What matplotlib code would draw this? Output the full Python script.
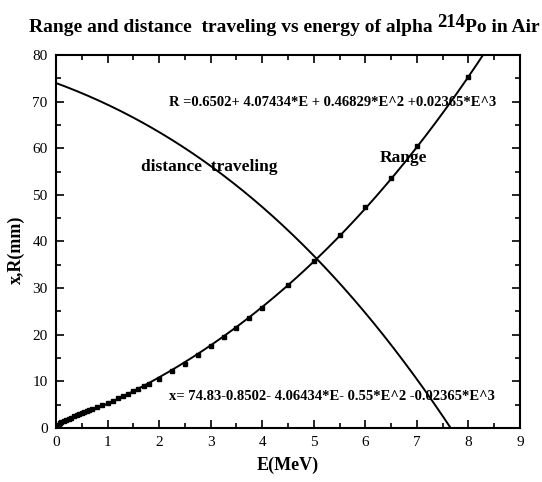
import numpy as np
import matplotlib
matplotlib.use('Agg')
import matplotlib.pyplot as plt
from matplotlib.ticker import MultipleLocator

plt.rcParams['font.family'] = ['Liberation Serif', 'DejaVu Serif']

# measured range points (E in MeV, R in mm)
E_pts = [0.01, 0.03, 0.05, 0.08, 0.1, 0.15, 0.2, 0.25, 0.3, 0.35, 0.4, 0.45,
         0.5, 0.55, 0.6, 0.65, 0.7, 0.8, 0.9, 1.0, 1.1, 1.2, 1.3, 1.4, 1.5,
         1.6, 1.7, 1.8, 2.0, 2.25, 2.5, 2.75, 3.0, 3.25, 3.5, 3.75, 4.0,
         4.5, 5.0, 5.5, 6.0, 6.5, 7.0, 8.0]
R_pts = [0.1, 0.4, 0.7, 1.0, 1.2, 1.5, 1.8, 2.0, 2.2, 2.5, 2.7, 3.0,
         3.2, 3.4, 3.6, 3.8, 4.0, 4.5, 4.9, 5.4, 5.9, 6.4, 6.9, 7.4, 7.9,
         8.4, 9.0, 9.5, 10.6, 12.2, 13.8, 15.6, 17.5, 19.5, 21.4, 23.6, 25.8,
         30.6, 35.9, 41.4, 47.3, 53.6, 60.4, 75.2]

# fit coefficients, highest power first
R_coef = [0.02365, 0.46829, 4.07434, 0.6502]
x_coef = [-0.02365, -0.55, -4.06434, 74.83 - 0.8502]

fig = plt.figure(figsize=(5.42, 4.82), dpi=100)
ax = fig.add_axes([0.1033, 0.112, 0.856, 0.774])

E = np.linspace(0, 9, 600)
ax.plot(E, np.polyval(R_coef, E), color='black', lw=1.4)
ax.plot(E, np.polyval(x_coef, E), color='black', lw=1.4)
ax.plot(E_pts, R_pts, 's', color='black', ms=2.2)

ax.set_xlim(0, 9)
ax.set_ylim(0, 80)
ax.xaxis.set_major_locator(MultipleLocator(1))
ax.xaxis.set_minor_locator(MultipleLocator(0.5))
ax.yaxis.set_major_locator(MultipleLocator(10))
ax.yaxis.set_minor_locator(MultipleLocator(5))
ax.tick_params(which='both', direction='in', top=True, right=True,
               labelsize=11, width=1.2)
ax.tick_params(which='major', length=6, pad=6)
ax.tick_params(which='minor', length=3.5)
for s in ax.spines.values():
    s.set_linewidth(1.5)

ax.set_xlabel('E(MeV)', fontsize=13, fontweight='bold', labelpad=5)
ax.set_ylabel('x,R(mm)', fontsize=13, fontweight='bold')
ax.yaxis.set_label_coords(-0.068, 0.477)

# title built in pieces so the isotope number sits raised at full size
t1 = fig.text(0.053, 0.925, 'Range and distance  traveling vs energy of alpha ',
              ha='left', va='bottom', fontsize=14, fontweight='bold')
t2 = ax.annotate('214', xy=(1, 0), xycoords=t1, xytext=(0, 4),
                 textcoords='offset points', ha='left', va='bottom',
                 fontsize=13.5, fontweight='bold', annotation_clip=False)
ax.annotate('Po in Air', xy=(1, 0), xycoords=t2, xytext=(0, -4),
            textcoords='offset points', ha='left', va='bottom',
            fontsize=14, fontweight='bold', annotation_clip=False)

ax.text(2.2, 69.8, 'R =0.6502+ 4.07434*E + 0.46829*E^2 +0.02365*E^3',
        fontsize=10.5, fontweight='bold', va='center')
ax.text(1.65, 56, 'distance  traveling', fontsize=12.5, fontweight='bold',
        va='center')
ax.text(6.28, 58, 'Range', fontsize=12.5, fontweight='bold', va='center')
ax.text(2.2, 6.7, 'x= 74.83-0.8502- 4.06434*E- 0.55*E^2 -0.02365*E^3',
        fontsize=10.5, fontweight='bold', va='center')

fig.savefig('out.png', dpi=100)
